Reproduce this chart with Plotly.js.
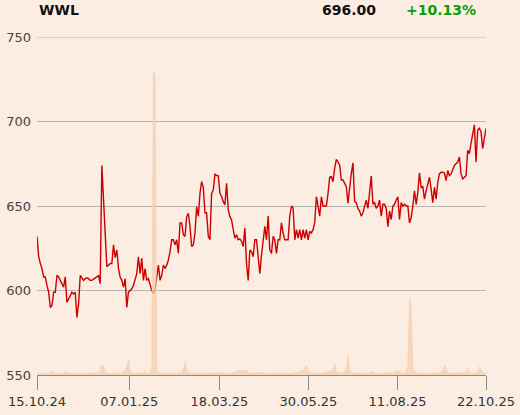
<!DOCTYPE html>
<html>
<head>
<meta charset="utf-8">
<script src="https://cdn.plot.ly/plotly-3.0.1.min.js"></script>
<style>
html,body{margin:0;padding:0;background:#FBEDE2;}
#chart{width:520px;height:415px;}
</style>
</head>
<body>
<div id="chart"></div>
<script>
// Title texts
var symbol = "WWL";
var lastPrice = "696.00";
var change = "+10.13%";

// Date tick labels (trading-day index positions)
var tickLabels = ["15.10.24", "07.01.25", "18.03.25", "30.05.25", "11.08.25", "22.10.25"];
var tickIndex = [0, 55.5, 109.7, 163.2, 216.8, 270];

// Closing prices, one per trading day
var price = [
  632, 620, 616, 613, 608, 608, 603, 599, 590, 591, 599, 599, 609, 608, 606, 604, 602, 608, 593, 595,
  597, 599, 598, 599, 584, 592, 609, 607, 606, 607, 607.5, 607, 606, 606, 607, 607.5, 608, 609, 604, 674,
  654, 632, 614, 615, 616,
  616, 627, 619.5, 624, 613, 608, 606, 602, 607, 590, 599, 600, 601, 603, 606, 610, 620, 610, 619, 606,
  613, 606, 607, 603, 600, 598.5, 600, 608, 615, 606, 609, 615, 613, 615, 618, 623, 630, 630, 627, 630,
  622, 640, 640, 633,
  632, 643.7, 645.7, 638, 626, 627, 634, 649.6, 644, 657.5, 664.4, 661, 646, 646, 632, 630, 657.5, 659.5, 669, 668,
  668, 657.5, 655.6, 652.6, 650.7, 663.4, 648, 643.7, 641.7, 636, 631, 633, 630, 630.5, 629, 626, 637, 616, 606, 624,
  623, 620, 630, 630,
  621, 610, 621, 630, 638, 630, 644, 624, 622, 632, 630, 622, 630, 630, 640, 634, 630, 630, 630, 644,
  650, 649, 630, 636, 631, 636, 630, 636, 631, 636, 630, 635, 634, 636, 640, 655.5, 650, 644, 655.5, 650,
  650, 650, 657.5, 667,
  667.4, 664.4, 672.3, 677.6, 676, 674.3, 665.4, 665.4, 663.4, 661.4, 651.6, 661.4, 669.3, 675.6, 652.6, 652, 648.6, 647, 644, 646,
  650, 653.5, 648.6, 657.5, 667.8, 651, 652, 648.6, 650, 653.5, 644, 651, 651, 648.6, 637.8, 647, 642, 650, 651, 653.5,
  655.5, 642, 652, 650, 651, 650, 650,
  640, 643, 650, 659, 651, 658, 669.7, 661, 661.5, 654, 659, 664, 667, 660, 652, 661, 654, 664, 669, 670,
  670, 669.5, 665, 671, 668, 669, 671, 674, 675, 676, 679, 669, 666, 667, 668, 683, 681, 687, 693, 698,
  676, 695, 696, 694, 684, 690, 696
];

// Traded volume (relative units), one per trading day
var volume = [
  4,5,3,6,5,4,7,5,8,12,
  6,4,5,3,4,6,5,7,10,6,
  5,4,3,5,4,6,5,4,3,5,
  4,6,5,4,5,7,6,8,12,30,
  25,10,6,5,4,6,5,4,5,6,
  5,7,8,12,30,45,15,8,6,5,
  7,5,6,4,8,10,6,5,7,20,
  897,885,15,8,6,5,7,6,5,4,
  6,5,7,5,4,6,8,6,15,40,
  15,7,5,6,4,5,6,5,7,6,
  5,4,6,5,7,8,6,5,7,6,
  5,6,7,5,6,4,5,6,8,7,
  9,12,15,14,13,15,12,8,6,5,
  6,5,7,6,8,9,6,5,4,6,
  5,6,4,5,7,6,5,4,6,5,
  7,6,5,4,6,8,7,9,10,12,
  15,20,27,14,8,6,5,7,6,5,
  4,6,5,7,8,10,9,12,15,33,
  12,8,7,6,8,10,20,60,15,8,
  6,5,7,6,5,4,6,5,7,6,
  5,8,10,7,6,5,4,6,5,7,
  6,5,7,8,6,9,10,14,8,6,
  5,7,8,30,225,200,20,10,7,6,
  5,6,4,5,7,6,5,4,6,5,
  7,6,8,9,12,30,20,8,6,5,
  6,5,7,6,8,6,5,7,10,20,
  8,6,5,7,6,8,25,15,7,6,
  5
];

var idx = price.map(function(_, i){ return i; });

var bg = '#FBEDE2';
var traces = [
  {
    x: idx, y: volume, yaxis: 'y2', type: 'scatter', mode: 'lines',
    fill: 'tozeroy', line: {width: 0.8, color: 'rgba(246,205,172,0.75)'},
    fillcolor: 'rgba(246,205,172,0.75)', hoverinfo: 'skip'
  },
  {
    x: idx, y: price, type: 'scatter', mode: 'lines',
    line: {color: '#CC0000', width: 1.4}
  }
];

var layout = {
  width: 520, height: 415,
  margin: {l: 37, r: 34, t: 37, b: 40, pad: 0},
  paper_bgcolor: bg, plot_bgcolor: bg,
  showlegend: false,
  font: {family: 'DejaVu Sans, sans-serif', size: 13, color: '#333'},
  xaxis: {
    range: [0, 270], tickmode: 'array', tickvals: tickIndex, ticktext: tickLabels,
    showgrid: false, zeroline: false, showline: true, linecolor: '#8a8a8a', linewidth: 1,
    ticks: 'outside', ticklen: 14, tickcolor: '#8a8a8a', tickwidth: 1,
    tickfont: {family: 'DejaVu Sans, sans-serif', size: 13, color: '#333'}
  },
  yaxis: {
    range: [550, 750], tickmode: 'array', tickvals: [550, 600, 650, 700, 750],
    showgrid: true, gridcolor: '#b5b5b5', gridwidth: 1, zeroline: false, showline: false,
    ticks: '', ticklabelstandoff: 5,
    tickfont: {family: 'DejaVu Sans, sans-serif', size: 13, color: '#444'}
  },
  yaxis2: {
    range: [0, 1000], overlaying: 'y', visible: false, showgrid: false, zeroline: false
  },
  shapes: [
    {type: 'line', xref: 'paper', yref: 'y', x0: 0, x1: 1, y0: 750, y1: 750,
     line: {color: '#b5b5b5', width: 1}, layer: 'below'}
  ],
  annotations: [
    {text: '<b>' + symbol + '</b>', xref: 'paper', yref: 'paper', x: 0, y: 1.08,
     xanchor: 'left', yanchor: 'middle', showarrow: false,
     font: {family: 'DejaVu Sans, sans-serif', size: 14, color: '#111'}},
    {text: '<b>' + lastPrice + '</b>', xref: 'paper', yref: 'paper', x: 0.759, y: 1.08,
     xanchor: 'right', yanchor: 'middle', showarrow: false,
     font: {family: 'DejaVu Sans, sans-serif', size: 14, color: '#111'}},
    {text: '<b>' + change + '</b>', xref: 'paper', yref: 'paper', x: 0.818, y: 1.08,
     xanchor: 'left', yanchor: 'middle', showarrow: false,
     font: {family: 'DejaVu Sans, sans-serif', size: 14, color: '#06a006'}}
  ]
};

Plotly.newPlot('chart', traces, layout, {displayModeBar: false, staticPlot: true});
</script>
</body>
</html>
